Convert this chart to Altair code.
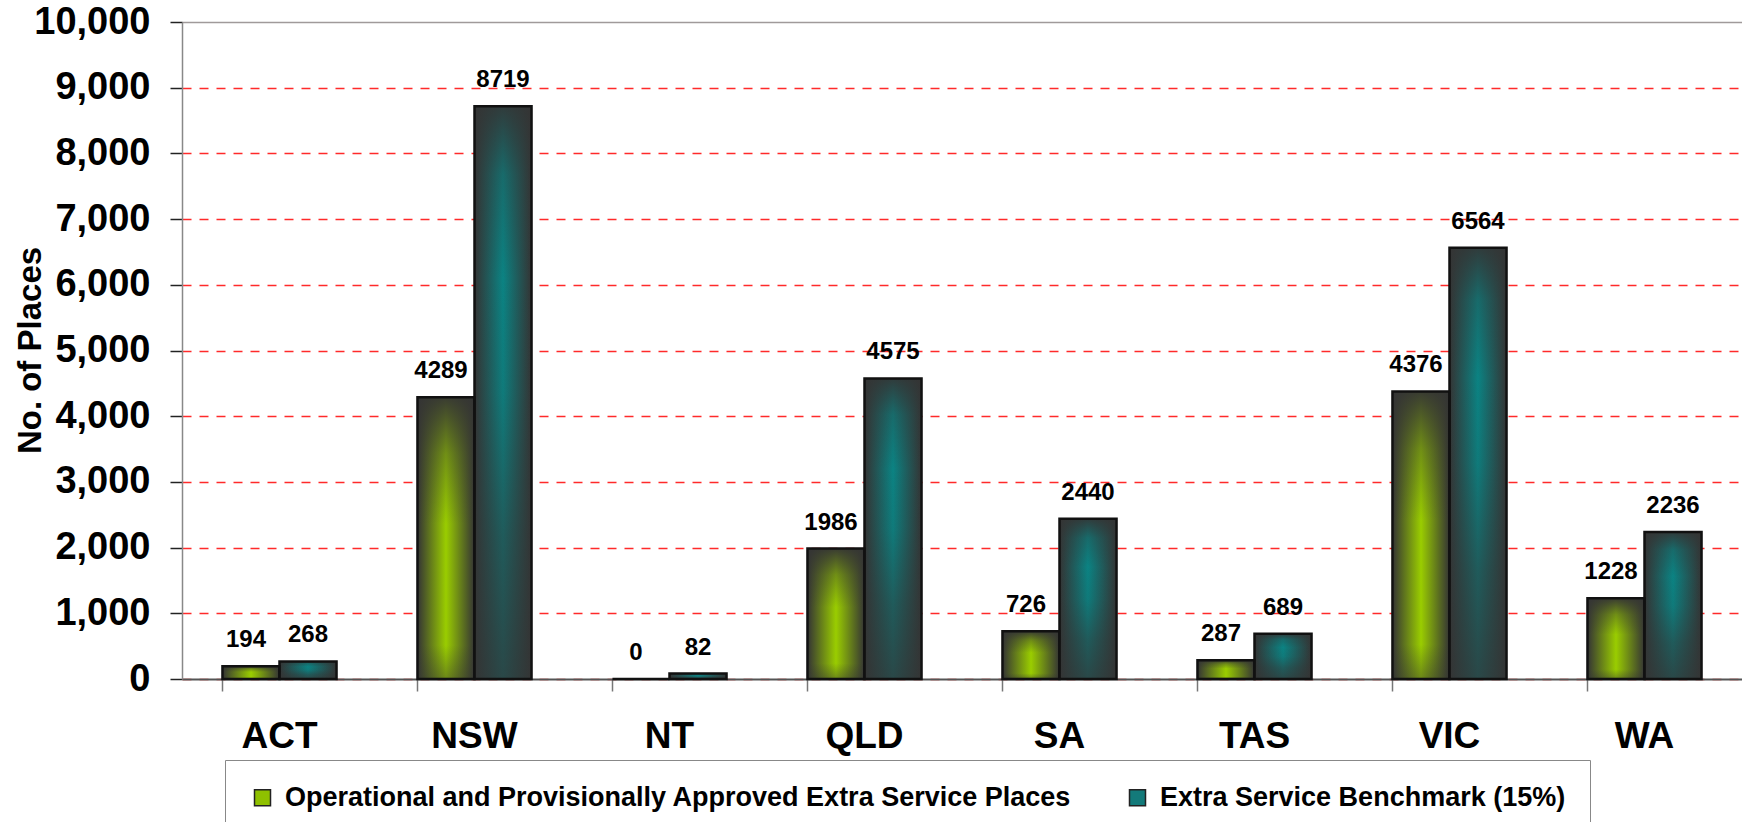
import altair as alt
import pandas as pd

# Extra service places by state/territory
states = ["ACT", "NSW", "NT", "QLD", "SA", "TAS", "VIC", "WA"]
operational = [194, 4289, 0, 1986, 726, 287, 4376, 1228]
benchmark = [268, 8719, 82, 4575, 2440, 689, 6564, 2236]
series_names = [
    "Operational and Provisionally Approved Extra Service Places",
    "Extra Service Benchmark (15%)",
]
y_ticks = list(range(0, 10001, 1000))

rows = []
for s, a, b in zip(states, operational, benchmark):
    rows.append({"state": s, "series": series_names[0], "value": a})
    rows.append({"state": s, "series": series_names[1], "value": b})
df = pd.DataFrame(rows)

FONT = "Liberation Sans"
DARK = "#343434"


def hgrad(center):
    return {
        "gradient": "linear", "x1": 0, "y1": 0, "x2": 1, "y2": 0,
        "stops": [
            {"offset": 0.0, "color": DARK},
            {"offset": 0.5, "color": center},
            {"offset": 1.0, "color": DARK},
        ],
    }


def vgrad(stops):
    return {
        "gradient": "linear", "x1": 0, "y1": 0, "x2": 0, "y2": 1,
        "stops": [{"offset": o, "color": f"rgba(52,52,52,{a})"} for o, a in stops],
    }


green_shade = vgrad([(0, 0.95), (0.2, 0.4), (0.45, 0.0), (0.88, 0.0), (1, 0.45)])
teal_shade = vgrad([(0, 0.9), (0.12, 0.3), (0.3, 0.0), (0.5, 0.1), (0.75, 0.5), (1, 0.75)])

x_enc = alt.X(
    "state:N",
    sort=states,
    scale=alt.Scale(paddingInner=0.415, paddingOuter=0.2075),
    axis=alt.Axis(
        title=None, labelFont=FONT, labelFontSize=37, labelFontWeight="bold",
        labelColor="black", labelAngle=0, labelPadding=27, tickSize=12,
        tickColor="#777777", tickWidth=1.5, bandPosition=0,
        domainColor="#555555", domainWidth=2, grid=False,
    ),
)
xoff_enc = alt.XOffset("series:N", scale=alt.Scale(domain=series_names))
y_enc = alt.Y(
    "value:Q",
    scale=alt.Scale(domain=[0, 10000], nice=False),
    axis=alt.Axis(
        values=y_ticks, format=",.0f", title="No. of Places",
        titleFont=FONT, titleFontSize=33, titleFontWeight="bold", titleColor="black",
        titleAngle=270, titleX=-152, titleY=328, titleAlign="center",
        titleBaseline="middle",
        labelFont=FONT, labelFontSize=38, labelFontWeight="bold", labelColor="black",
        labelPadding=20, tickSize=12, tickColor="#222222", tickWidth=1.5,
        domainColor="#888888", domainWidth=1.5,
        grid=True, gridWidth=1.5,
        gridColor={"condition": {"test": "datum.value === 10000", "value": "#a09a9a"},
                   "value": "#ff2a2a"},
        gridDash={"condition": {"test": "datum.value === 10000", "value": []},
                  "value": [9, 8]},
    ),
)

base = alt.Chart(df).encode(x=x_enc, xOffset=xoff_enc, y=y_enc)
is_a = alt.datum.series == series_names[0]
is_b = alt.datum.series == series_names[1]

green_fill = base.transform_filter(is_a).mark_bar(fill=hgrad("#9acd00"), strokeWidth=0)
teal_fill = base.transform_filter(is_b).mark_bar(fill=hgrad("#0b8383"), strokeWidth=0)
green_top = base.transform_filter(is_a).mark_bar(
    fill=green_shade, stroke="#111111", strokeWidth=2.5)
teal_top = base.transform_filter(is_b).mark_bar(
    fill=teal_shade, stroke="#111111", strokeWidth=2.5)

# invisible bars that carry the series legend
legend_layer = base.mark_bar(opacity=0).encode(
    color=alt.Color(
        "series:N",
        scale=alt.Scale(domain=series_names, range=["#8fc000", "#137a7a"]),
        legend=alt.Legend(
            title=None, orient="none", legendX=43, legendY=738,
            direction="horizontal", symbolType="square", symbolSize=256,
            symbolStrokeColor="#222222", symbolStrokeWidth=1.5, symbolOpacity=1,
            labelFont=FONT, labelFontSize=27, labelFontWeight="bold",
            labelColor="black", labelOffset=9, labelLimit=0, columnPadding=52,
            padding=24, strokeColor="#888888", fillColor="white",
        ),
    )
)

text_kw = dict(font=FONT, fontSize=24, fontWeight="bold", color="black",
               baseline="alphabetic", dy=-19)
labels_a = base.transform_filter(is_a).mark_text(dx=-5, **text_kw).encode(text="value:Q")
labels_b = base.transform_filter(is_b).mark_text(**text_kw).encode(text="value:Q")

chart = (
    alt.layer(green_fill, teal_fill, green_top, teal_top, legend_layer, labels_a, labels_b)
    .properties(
        width=1560, height=657, autosize="none",
        padding={"left": 182, "top": 22, "right": 0, "bottom": 143},
    )
    .configure_view(stroke=None)
    .configure(background="white")
)

chart.save("out.html", embed_options={"renderer": "svg", "actions": False})
